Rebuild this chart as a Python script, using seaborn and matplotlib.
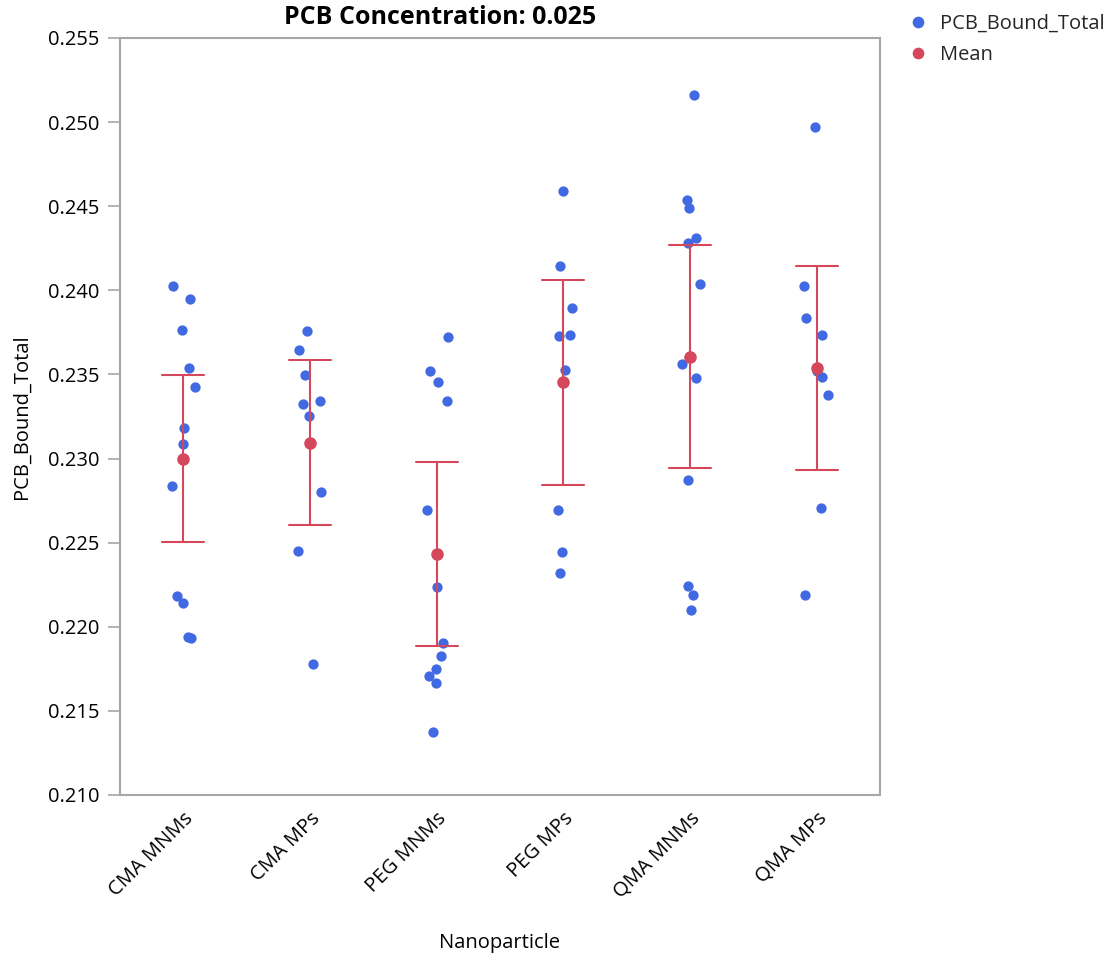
import math
import numpy as np
import pandas as pd
import matplotlib
matplotlib.use("Agg")
import matplotlib.pyplot as plt
from matplotlib.lines import Line2D
import seaborn as sns

# PCB bound totals per nanoparticle type (PCB concentration 0.025)
categories = ["CMA MNMs", "CMA MPs", "PEG MNMs", "PEG MPs", "QMA MNMs", "QMA MPs"]
cma_mnms = [0.24026, 0.23948, 0.23764, 0.23538, 0.23425, 0.23182,
            0.23087, 0.22837, 0.22183, 0.22141, 0.21939, 0.21933]
cma_mps = [0.23760, 0.23644, 0.23497, 0.23340, 0.23322, 0.23253,
           0.22801, 0.22450, 0.21779]
peg_mnms = [0.23721, 0.23522, 0.23453, 0.23342, 0.22692, 0.22238,
            0.21905, 0.21826, 0.21747, 0.21707, 0.21668, 0.21373]
peg_mps = [0.24592, 0.24144, 0.23894, 0.23737, 0.23728, 0.23526,
           0.22692, 0.22442, 0.22320]
qma_mnms = [0.25164, 0.24537, 0.24490, 0.24314, 0.24280, 0.24036,
            0.23563, 0.23479, 0.22875, 0.22240, 0.22189, 0.22097]
qma_mps = [0.24970, 0.24023, 0.23838, 0.23737, 0.23518, 0.23482,
           0.23378, 0.22709, 0.22191]

groups = [cma_mnms, cma_mps, peg_mnms, peg_mps, qma_mnms, qma_mps]
df = pd.DataFrame({
    "Nanoparticle": np.repeat(categories, [len(g) for g in groups]),
    "PCB_Bound_Total": np.concatenate(groups),
})


def t_quantile(p, dof):
    """Two-sided Student t critical value via numerical integration of the pdf."""
    c = math.exp(math.lgamma((dof + 1) / 2) - math.lgamma(dof / 2)) / math.sqrt(dof * math.pi)
    grid = np.linspace(0, 20, 200001)
    pdf = c * (1 + grid ** 2 / dof) ** (-(dof + 1) / 2)
    cdf = np.concatenate([[0], np.cumsum((pdf[1:] + pdf[:-1]) / 2 * np.diff(grid))])
    return float(np.interp(p - 0.5, cdf, grid))


def mean_ci95(v):
    v = np.asarray(v, dtype=float)
    n = len(v)
    m = v.mean()
    half = t_quantile(0.975, n - 1) * v.std(ddof=1) / math.sqrt(n)
    return m - half, m + half


BLUE = "#4169E1"
RED = "#D5475A"
FRAME_GRAY = "#A6A6A6"
FS = 14.5

sns.set_theme(style="white")
plt.rcParams["font.family"] = ["Open Sans", "DejaVu Sans"]

fig = plt.figure(figsize=(11.15, 9.61), dpi=100)
ax = fig.add_axes([120 / 1115, 1 - 795 / 961, 760 / 1115, 757 / 961])

np.random.seed(7)
sns.stripplot(data=df, x="Nanoparticle", y="PCB_Bound_Total", order=categories,
              color=BLUE, jitter=0.1, size=7.4, linewidth=0, ax=ax, zorder=3)
sns.pointplot(data=df, x="Nanoparticle", y="PCB_Bound_Total", order=categories,
              estimator="mean", errorbar=mean_ci95, color=RED, markers="o",
              linestyle="none", capsize=0.33, markersize=7.0,
              err_kws={"linewidth": 1.5}, ax=ax)
for coll in ax.collections:
    coll.set_zorder(3)
for line in ax.lines:
    line.set_zorder(4)

ax.set_xlim(-0.5, len(categories) - 0.5)
ax.set_ylim(0.210, 0.255)
ax.set_yticks(np.arange(0.210, 0.2551, 0.005))
ax.yaxis.set_major_formatter(matplotlib.ticker.FormatStrFormatter("%.3f"))

for side in ["left", "right", "top", "bottom"]:
    ax.spines[side].set_visible(True)
    ax.spines[side].set_color(FRAME_GRAY)
    ax.spines[side].set_linewidth(1.5)

ax.tick_params(axis="y", which="major", left=True, length=9, width=1.2,
               color=FRAME_GRAY, labelsize=FS, labelcolor="black", pad=6)
ax.tick_params(axis="x", bottom=False, labelsize=FS, labelcolor="black", pad=4)
for lbl in ax.get_xticklabels():
    lbl.set_rotation(45)
    lbl.set_ha("right")
    lbl.set_va("top")
    lbl.set_rotation_mode("anchor")

ax.set_xlabel("Nanoparticle", fontsize=FS, color="black")
ax.xaxis.set_label_coords(0.5, -(943 - 795) / 757)
ax.xaxis.label.set_va("center")
ax.set_ylabel("PCB_Bound_Total", fontsize=FS, color="black")
ax.yaxis.set_label_coords(-(120 - 22) / 760, 0.5)
ax.yaxis.label.set_va("center")

fig.text(440 / 1115, 1 - 18 / 961, "PCB Concentration: 0.025", ha="center",
         va="center", fontsize=18, fontweight="bold", color="black")

handles = [
    Line2D([], [], marker="o", linestyle="none", color=BLUE, markersize=7.4),
    Line2D([], [], marker="o", linestyle="none", color=RED, markersize=7.4),
]
fig.legend(handles, ["PCB_Bound_Total", "Mean"], loc="upper left",
           bbox_to_anchor=(888 / 1115, 1 + 4 / 961), frameon=False,
           fontsize=FS, handletextpad=0.5, labelspacing=0.55, handlelength=1.2)

fig.savefig("out.png", dpi=100)
